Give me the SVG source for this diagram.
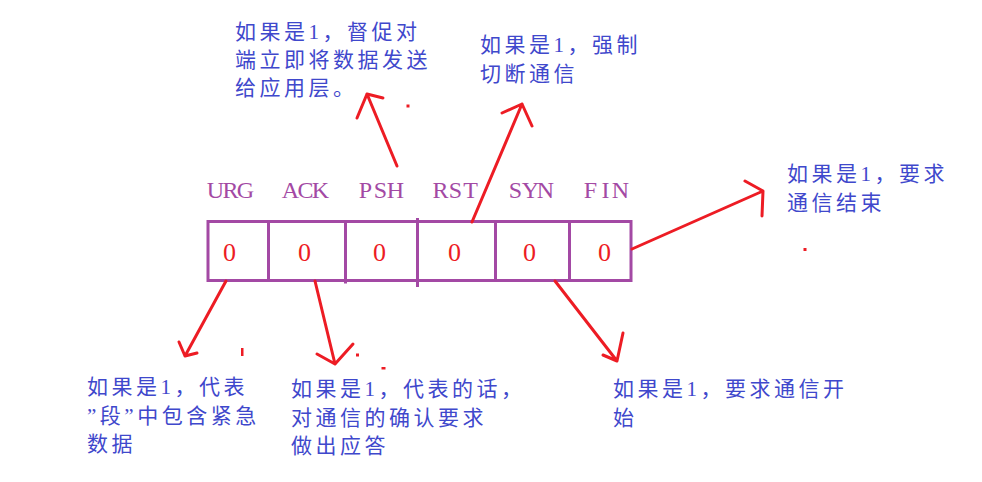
<svg xmlns="http://www.w3.org/2000/svg" width="982" height="482" viewBox="0 0 982 482">
<style>
.note{font-family:'Liberation Serif','Noto Sans CJK SC',serif;font-size:21px;letter-spacing:3.5px;fill:#3f48cc}
.hdr{font-family:'Liberation Serif','Noto Sans CJK SC',serif;font-size:24px;fill:#a349a4;text-anchor:middle}
.bit{font-family:'Liberation Serif',serif;font-size:26px;fill:#ed1c24;text-anchor:middle}
.box{fill:none;stroke:#a349a4;stroke-width:3}
.arr{fill:none;stroke:#ed1c24;stroke-width:3;stroke-linecap:round;stroke-linejoin:round}
</style>
<rect width="982" height="482" fill="#ffffff"/>
<g id="headers">
<text class="hdr" x="215.5 230.5 245.5" y="198">URG</text>
<text class="hdr" x="290.5 305.5 320.5" y="198">ACK</text>
<text class="hdr" x="365.5 380.5 395.5" y="198">PSH</text>
<text class="hdr" x="440.5 455.5 470.5" y="198">RST</text>
<text class="hdr" x="515.5 530.5 545.5" y="198">SYN</text>
<text class="hdr" x="590.5 605.5 620.5" y="198">FIN</text>
</g>
<g id="register">
<rect class="box" x="208" y="221.5" width="423" height="59"/>
<line class="box" x1="268.5" y1="221.5" x2="268.5" y2="280.5"/>
<line class="box" x1="345.5" y1="221.5" x2="345.5" y2="283.5"/>
<line class="box" x1="417.5" y1="218" x2="417.5" y2="287"/>
<line class="box" x1="495.5" y1="221.5" x2="495.5" y2="280.5"/>
<line class="box" x1="569.5" y1="221.5" x2="569.5" y2="280.5"/>
<text class="bit" x="229.5" y="260.5">0</text>
<text class="bit" x="304.5" y="260.5">0</text>
<text class="bit" x="379.5" y="260.5">0</text>
<text class="bit" x="454.5" y="260.5">0</text>
<text class="bit" x="529.5" y="260.5">0</text>
<text class="bit" x="604.5" y="260.5">0</text>
</g>
<g id="note-psh">
<text class="note" x="235" y="39">如果是1，督促对</text>
<text class="note" x="235" y="67">端立即将数据发送</text>
<text class="note" x="235" y="95">给应用层。</text>
</g>
<g id="note-rst">
<text class="note" x="480" y="52">如果是1，强制</text>
<text class="note" x="480" y="81">切断通信</text>
</g>
<g id="note-fin">
<text class="note" x="787" y="181">如果是1，要求</text>
<text class="note" x="787" y="210">通信结束</text>
</g>
<g id="note-syn">
<text class="note" x="613" y="396">如果是1，要求通信开</text>
<text class="note" x="613" y="425">始</text>
</g>
<g id="note-urg">
<text class="note" x="87" y="394">如果是1，代表</text>
<text class="note" x="87" y="423">”段”中包含紧急</text>
<text class="note" x="87" y="451">数据</text>
</g>
<g id="note-ack">
<text class="note" x="291" y="396">如果是1，代表的话，</text>
<text class="note" x="291" y="425">对通信的确认要求</text>
<text class="note" x="291" y="453">做出应答</text>
</g>
<g id="connectors">
<path class="arr" d="M397 166 L367 94 M357 118 L367 94 L383 98"/>
<path class="arr" d="M472 222 L522 104 M502 113 L522 104 L532 126"/>
<path class="arr" d="M632 249 L763 191 M745 181 L763 191 L762 216"/>
<path class="arr" d="M555 281 L617 361 M603 355 L617 361 L623 333"/>
<path class="arr" d="M226 281 L185 356 M179 342 L185 356 L197 353"/>
<path class="arr" d="M315 281 L335 364 M317 354 L335 364 L353 344"/>
</g>
<g id="specks" fill="#ed1c24">
<rect x="406.5" y="104.5" width="3" height="3"/>
<rect x="803.5" y="248" width="3" height="3"/>
<rect x="241" y="348" width="2.5" height="8"/>
<rect x="356" y="353.5" width="3" height="3"/>
<rect x="381.5" y="367" width="4" height="2.5"/>
</g>
</svg>
